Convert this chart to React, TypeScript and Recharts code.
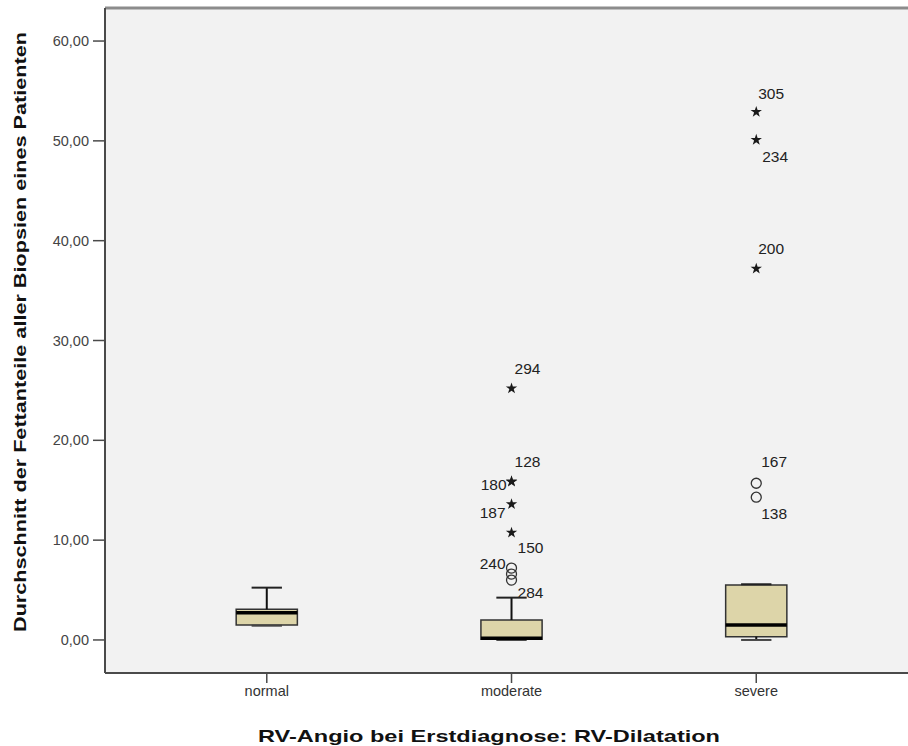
import React from "react";
import {
  CartesianGrid,
  ComposedChart,
  ReferenceArea,
  ReferenceLine,
  Scatter,
  XAxis,
  YAxis
} from "recharts";

// box statistics per group
const groups = ["normal", "moderate", "severe"];
const groupPos = [1, 2, 3];
const q1 = [1.5, 0.07, 0.33];
const median = [2.73, 0.17, 1.5];
const q3 = [3.07, 2.0, 5.51];
const whiskerLow = [1.43, 0.0, 0.0];
const whiskerHigh = [5.24, 4.24, 5.58];

const extremes = [
  { x: 2, y: 25.2, id: "294" },
  { x: 2, y: 15.9, id: "128" },
  { x: 2, y: 15.85, id: "180" },
  { x: 2, y: 13.6, id: "187" },
  { x: 2, y: 10.75, id: "150" },
  { x: 3, y: 52.9, id: "305" },
  { x: 3, y: 50.1, id: "234" },
  { x: 3, y: 37.2, id: "200" }
];

const outliers = [
  { x: 2, y: 7.2, id: "240" },
  { x: 2, y: 6.6, id: "" },
  { x: 2, y: 6.0, id: "284" },
  { x: 3, y: 15.7, id: "167" },
  { x: 3, y: 14.3, id: "138" }
];

const yTicks = [0, 10, 20, 30, 40, 50, 60];

// where each case number sits relative to its symbol
const labelPlace: Record<string, [number, number, "start" | "end"]> = {
  "305": [2, -18, "start"],
  "234": [6, 17, "start"],
  "200": [2, -20, "start"],
  "294": [3, -20, "start"],
  "128": [3, -20, "start"],
  "180": [-5, 3, "end"],
  "187": [-6, 8, "end"],
  "150": [6, 15, "start"],
  "240": [-6, -5, "end"],
  "284": [6, 12, "start"],
  "167": [5, -22, "start"],
  "138": [5, 16, "start"]
};

const font = "Arial, 'Liberation Sans', sans-serif";
const yMin = -3.31;
const yMax = 63.31;
const boxHalf = 0.125;
const capHalf = 0.062;
const boxFill = "#ddd5a9";

function CaseLabel({ cx, cy, id }: { cx: number; cy: number; id: string }) {
  const place = labelPlace[id];
  if (!place) return null;
  return (
    <text
      x={cx + place[0]}
      y={cy + place[1]}
      textAnchor={place[2]}
      dominantBaseline="central"
      fontSize={15.5}
      fontFamily={font}
      fill="#222"
    >
      {id}
    </text>
  );
}

function StarShape(props: any) {
  const { cx, cy, payload } = props;
  const pts: string[] = [];
  for (let i = 0; i < 10; i++) {
    const r = i % 2 === 0 ? 6 : 2.3;
    const a = -Math.PI / 2 + (i * Math.PI) / 5;
    pts.push(`${cx + r * Math.cos(a)},${cy + r * Math.sin(a)}`);
  }
  return (
    <g>
      <polygon points={pts.join(" ")} fill="#1a1a1a" />
      <CaseLabel cx={cx} cy={cy} id={payload.id} />
    </g>
  );
}

function CircleShape(props: any) {
  const { cx, cy, payload } = props;
  return (
    <g>
      <circle cx={cx} cy={cy} r={5} fill="none" stroke="#333" strokeWidth={1.3} />
      <CaseLabel cx={cx} cy={cy} id={payload.id} />
    </g>
  );
}

function YTitle() {
  return (
    <text
      x={20}
      y={332}
      transform="rotate(-90 20 332)"
      textAnchor="middle"
      dominantBaseline="central"
      fontSize={17}
      fontWeight="bold"
      fontFamily={font}
      fill="#111"
      textLength={600}
      lengthAdjust="spacingAndGlyphs"
    >
      Durchschnitt der Fettanteile aller Biopsien eines Patienten
    </text>
  );
}

function XTitle() {
  return (
    <text
      x={489}
      y={736}
      textAnchor="middle"
      dominantBaseline="central"
      fontSize={17}
      fontWeight="bold"
      fontFamily={font}
      fill="#111"
      textLength={462}
      lengthAdjust="spacingAndGlyphs"
    >
      RV-Angio bei Erstdiagnose: RV-Dilatation
    </text>
  );
}

export default function App() {
  return (
    <div style={{ position: "absolute", left: 0, top: 0, background: "#fff" }}>
      <ComposedChart width={908} height={746} margin={{ top: 8, right: 0, left: 0, bottom: 0 }}>
        <CartesianGrid fill="#f2f2f2" horizontal={false} vertical={false} />
        <XAxis
          type="number"
          dataKey="x"
          domain={[0.339, 3.62]}
          ticks={groupPos}
          tickFormatter={(v) => groups[Number(v) - 1] ?? ""}
          allowDataOverflow
          height={73}
          tickSize={10}
          tickMargin={3}
          axisLine={{ stroke: "#4a4a4a", strokeWidth: 2 }}
          tickLine={{ stroke: "#4a4a4a", strokeWidth: 1.5 }}
          tick={{ fontSize: 14.5, fontFamily: font, fill: "#333" }}
          label={<XTitle />}
        />
        <YAxis
          type="number"
          dataKey="y"
          domain={[yMin, yMax]}
          ticks={yTicks}
          allowDataOverflow
          width={105}
          tickSize={12}
          tickMargin={4}
          tickFormatter={(v) => Number(v).toFixed(2).replace(".", ",")}
          axisLine={{ stroke: "#4a4a4a", strokeWidth: 2 }}
          tickLine={{ stroke: "#4a4a4a", strokeWidth: 1.5 }}
          tick={{ fontSize: 14.5, fontFamily: font, fill: "#444" }}
          label={<YTitle />}
        />
        <ReferenceLine y={yMax} stroke="#8c8c8c" strokeWidth={3} />

        {groupPos.map((g, i) => (
          <React.Fragment key={groups[i]}>
            <ReferenceLine
              segment={[{ x: g, y: q3[i] }, { x: g, y: whiskerHigh[i] }]}
              stroke="#111"
              strokeWidth={2}
            />
            <ReferenceLine
              segment={[{ x: g - capHalf, y: whiskerHigh[i] }, { x: g + capHalf, y: whiskerHigh[i] }]}
              stroke="#222"
              strokeWidth={2}
            />
            <ReferenceLine
              segment={[{ x: g, y: whiskerLow[i] }, { x: g, y: q1[i] }]}
              stroke="#111"
              strokeWidth={2}
            />
            <ReferenceLine
              segment={[{ x: g - capHalf, y: whiskerLow[i] }, { x: g + capHalf, y: whiskerLow[i] }]}
              stroke="#444"
              strokeWidth={2}
            />
            <ReferenceArea
              x1={g - boxHalf}
              x2={g + boxHalf}
              y1={q1[i]}
              y2={q3[i]}
              fill={boxFill}
              fillOpacity={1}
              stroke="#333"
              strokeWidth={1.5}
            />
            <ReferenceLine
              segment={[{ x: g - boxHalf, y: median[i] }, { x: g + boxHalf, y: median[i] }]}
              stroke="#000"
              strokeWidth={3.5}
            />
          </React.Fragment>
        ))}

        <Scatter data={outliers} shape={CircleShape} isAnimationActive={false} />
        <Scatter data={extremes} shape={StarShape} isAnimationActive={false} />
      </ComposedChart>
    </div>
  );
}
